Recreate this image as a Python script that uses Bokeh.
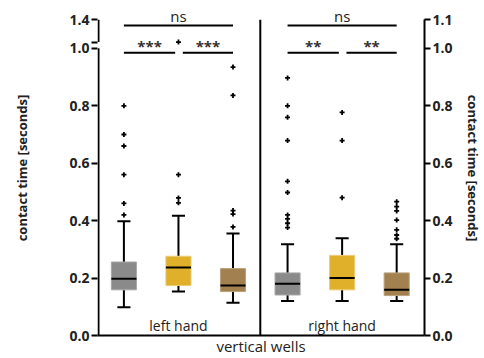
from bokeh.plotting import figure
from bokeh.models import Range1d, LinearAxis, FixedTicker, PrintfTickFormatter
from bokeh.core.properties import value
from bokeh.embed import file_html
from bokeh.resources import INLINE

# ---- data ----
groups = ["left-1", "left-2", "left-3", "right-1", "right-2", "right-3"]
positions = [1, 2, 3, 4, 5, 6]
box_colors = ["#8a8a8a", "#e1b02b", "#a2804f", "#8a8a8a", "#e1b02b", "#a2804f"]
box_edges = ["#a8a8a8", "#eccb73", "#bba07a", "#a8a8a8", "#eccb73", "#bba07a"]
whisker_low = [0.098, 0.153, 0.114, 0.120, 0.120, 0.120]
q1 = [0.159, 0.174, 0.153, 0.141, 0.159, 0.139]
medians = [0.198, 0.237, 0.174, 0.180, 0.200, 0.159]
q3 = [0.256, 0.276, 0.233, 0.218, 0.279, 0.218]
whisker_high = [0.398, 0.417, 0.355, 0.318, 0.339, 0.318]
outliers = [
    [0.80, 0.70, 0.66, 0.56, 0.46, 0.42],
    [1.022, 0.56, 0.479, 0.462],
    [0.935, 0.836, 0.435, 0.423, 0.378],
    [0.897, 0.80, 0.76, 0.679, 0.537, 0.498, 0.42, 0.406, 0.391, 0.376],
    [0.777, 0.679, 0.48],
    [0.466, 0.449, 0.434, 0.402, 0.368, 0.35, 0.337],
]
panel_labels = ["left hand", "right hand"]
panel_label_x = [2, 5]
sig_pairs = [(1, 3), (1, 2), (2, 3), (4, 6), (4, 5), (5, 6)]
sig_marks = ["ns", "***", "***", "ns", "**", "**"]
left_ticks = [0.0, 0.2, 0.4, 0.6, 0.8, 1.0, 1.022, 1.1]
left_overrides = {1.022: "", 1.1: "1.4"}
right_ticks = [0.0, 0.2, 0.4, 0.6, 0.8, 1.0, 1.1]
y_label = "contact time [seconds]"
x_label = "vertical wells"

FONT = "Open Sans"
TXT = "#222222"
X0, X1 = 0.516, 6.51
PXU = 328 / (X1 - X0)  # px per x unit
YTOP = 1.1667

p = figure(width=484, height=358, output_backend="svg", toolbar_location=None,
           x_range=Range1d(X0, X1), y_range=Range1d(0, YTOP),
           x_axis_location=None, y_axis_location=None,
           min_border_left=97, min_border_right=59, min_border_top=0, min_border_bottom=22)
p.grid.visible = False
p.outline_line_color = None
p.background_fill_color = "white"
p.border_fill_color = "white"

yl = LinearAxis(ticker=FixedTicker(ticks=left_ticks), formatter=PrintfTickFormatter(format="%.1f"),
                major_label_overrides=left_overrides, axis_label=y_label)
yr = LinearAxis(ticker=FixedTicker(ticks=right_ticks), formatter=PrintfTickFormatter(format="%.1f"),
                bounds=(0, 1.1), axis_label=y_label)
for ax in (yl, yr):
    ax.major_tick_out = 6
    ax.major_tick_in = 0
    ax.minor_tick_out = 0
    ax.minor_tick_in = 0
    ax.major_tick_line_width = 2
    ax.major_tick_line_color = "black"
    ax.axis_line_width = 2
    ax.axis_line_color = "black"
    ax.major_label_standoff = 2
    ax.major_label_text_font = FONT
    ax.major_label_text_font_style = "bold"
    ax.major_label_text_font_size = "14px"
    ax.major_label_text_color = TXT
    ax.axis_label_text_font = FONT
    ax.axis_label_text_font_style = "bold"
    ax.axis_label_text_font_size = "13px"
    ax.axis_label_text_color = TXT
yl.axis_line_color = None
yl.axis_label_standoff = 35
yr.axis_label_standoff = 8
p.add_layout(yl, "left")
p.add_layout(yr, "right")

xb = LinearAxis(ticker=FixedTicker(ticks=[]), axis_label=x_label)
xb.major_tick_out = 0
xb.major_tick_in = 0
xb.minor_tick_out = 0
xb.major_label_standoff = 0
xb.axis_line_width = 2
xb.axis_line_color = "black"
xb.axis_label_standoff = 0
xb.axis_label_text_font = FONT
xb.axis_label_text_font_style = "normal"
xb.axis_label_text_font_size = "15px"
xb.axis_label_text_color = TXT
p.add_layout(xb, "below")

# broken left axis line and panel divider
lx = X0 + 1.0 / PXU
p.segment(x0=[lx, lx], y0=[0, left_ticks[6]], x1=[lx, lx], y1=[1.0, 1.1], line_color="black", line_width=2)
p.segment(x0=[3.5], y0=[0], x1=[3.5], y1=[1.1], line_color="black", line_width=2)

# boxes
bw = 0.46
cw = 0.24
p.segment(x0=positions, y0=q3, x1=positions, y1=whisker_high, line_color="black", line_width=2)
p.segment(x0=positions, y0=whisker_low, x1=positions, y1=q1, line_color="black", line_width=2)
p.segment(x0=[x - cw / 2 for x in positions], y0=whisker_high, x1=[x + cw / 2 for x in positions],
          y1=whisker_high, line_color="black", line_width=2)
p.segment(x0=[x - cw / 2 for x in positions], y0=whisker_low, x1=[x + cw / 2 for x in positions],
          y1=whisker_low, line_color="black", line_width=2)
p.vbar(x=positions, width=bw, bottom=q1, top=q3, fill_color=box_colors, line_color=box_edges, line_width=1)
p.segment(x0=[x - bw / 2 for x in positions], y0=medians, x1=[x + bw / 2 for x in positions],
          y1=medians, line_color="black", line_width=2)

ox, oy = [], []
for x, vals in zip(positions, outliers):
    for v in vals:
        ox.append(x)
        oy.append(v)
p.scatter(ox, oy, marker="cross", size=5, line_color="black", line_width=1.8)

# significance brackets
sx0, sx1, sy = [], [], []
ns_x, ns_y, ns_t = [], [], []
st_x, st_y, st_t = [], [], []
for (a, b), m in zip(sig_pairs, sig_marks):
    if b - a == 2:
        x0, x1, y = a, b, 1.08
        ns_x.append((x0 + x1) / 2); ns_y.append(1.114); ns_t.append(m)
    else:
        x0 = a + (0.08 if a in (2, 5) else 0)
        x1 = b - (0.06 if b in (2, 5) else 0)
        y = 0.985
        st_x.append((x0 + x1) / 2); st_y.append(1.008); st_t.append(m)
    sx0.append(x0); sx1.append(x1); sy.append(y)
p.segment(x0=sx0, y0=sy, x1=sx1, y1=sy, line_color="black", line_width=2)
p.text(x=ns_x, y=ns_y, text=ns_t, text_align="center", text_baseline="alphabetic",
       text_font=value(FONT), text_font_size="15px", text_color=TXT)
p.text(x=st_x, y=st_y, text=st_t, text_align="center", text_baseline="alphabetic",
       text_font=value(FONT), text_font_style="bold", text_font_size="15px", text_color="#333333")

p.text(x=panel_label_x, y=[0.035, 0.035], text=panel_labels, text_align="center",
       text_baseline="alphabetic", text_font=value(FONT), text_font_size="14px", text_color=TXT)

open("out.html", "w").write(file_html(p, INLINE))
